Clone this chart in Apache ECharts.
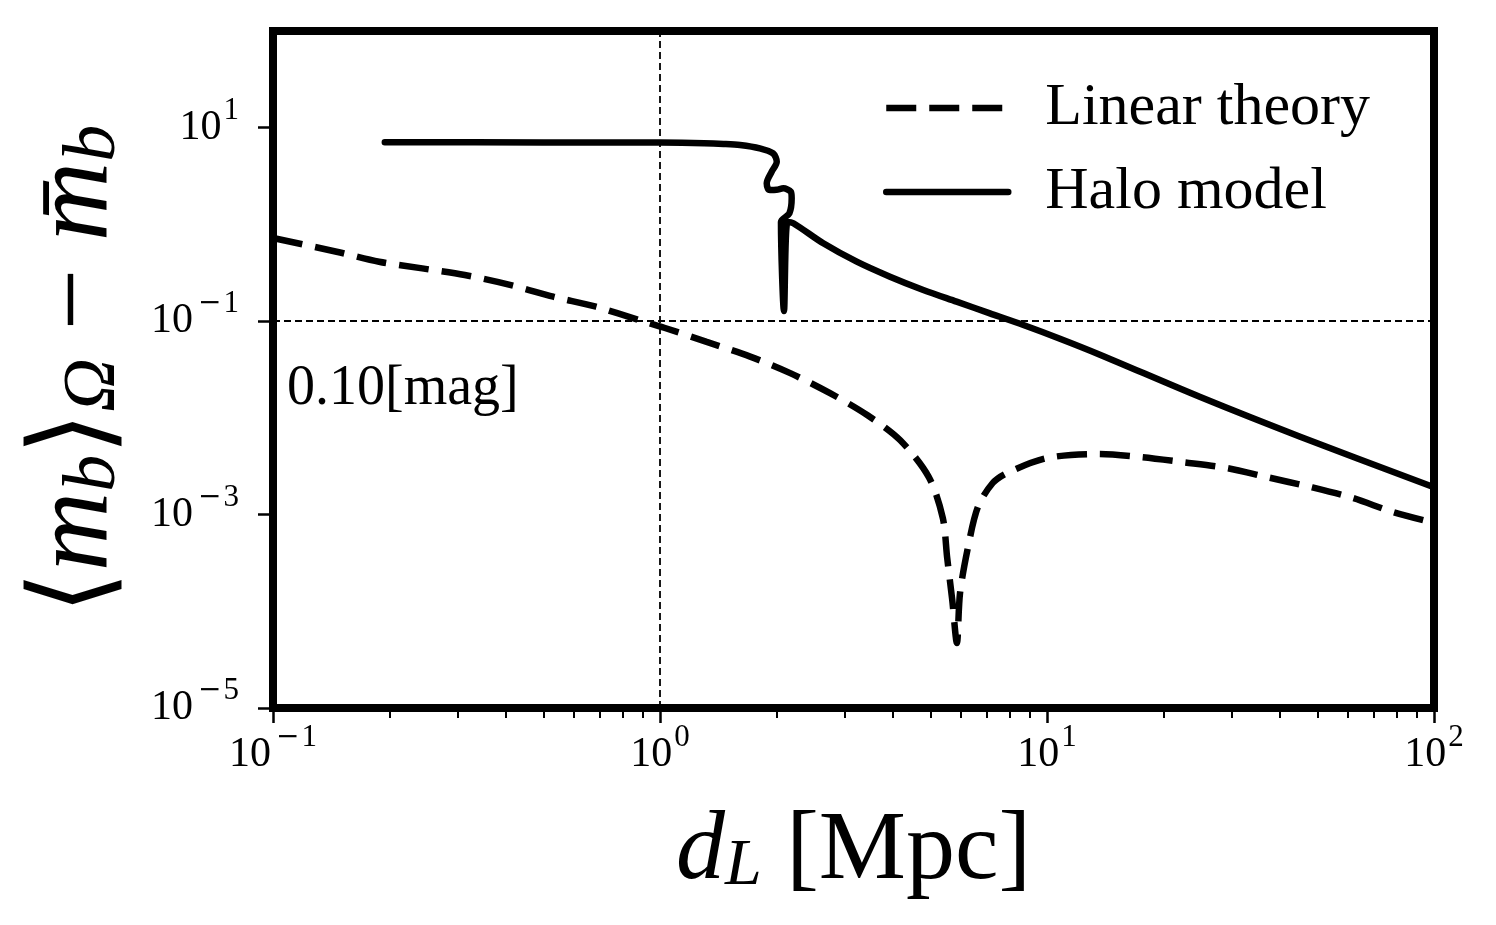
<!DOCTYPE html>
<html>
<head>
<meta charset="utf-8">
<script src="https://cdn.jsdelivr.net/npm/echarts@6/dist/echarts.min.js"></script>
<style>
  html, body { margin: 0; padding: 0; background: #fff; }
  #chart { width: 1496px; height: 925px; }
</style>
</head>
<body>
<div id="chart"></div>
<script>
// values (d_L in Mpc, magnitude offset)
var linearX = [0.1, 0.146, 0.188, 0.243, 0.313, 0.412, 0.53, 0.683, 0.88, 1.03, 1.32, 1.71, 2.17, 2.75, 3.43, 4.17, 4.95, 5.38, 5.52, 5.69, 5.85, 5.96, 6.25, 6.63, 7.24, 7.88, 10, 13.5, 17.4, 22.4, 29.2, 37.0, 47.9, 61.8, 78.4, 100];
var linearY = [0.723, 0.522, 0.411, 0.351, 0.300, 0.236, 0.179, 0.141, 0.103, 0.085, 0.061, 0.043, 0.029, 0.018, 0.0107, 0.0059, 0.00244, 0.00092, 0.00036, 0.000131, 0.000047, 0.000154, 0.00046, 0.0012, 0.00212, 0.00269, 0.00384, 0.00422, 0.00394, 0.00349, 0.00303, 0.00244, 0.00193, 0.00148, 0.00106, 0.00082];

var haloX = [0.1945, 0.5, 1.0, 1.3, 1.46, 1.61, 1.81, 1.96, 2.003, 1.944, 1.887, 1.9, 1.924, 2.0, 2.083, 2.177, 2.189, 2.159, 2.054, 2.091, 2.135, 2.211, 2.642, 3.224, 3.929, 4.79, 5.84, 7.12, 8.69, 10.8, 13.7, 24.8, 45.1, 100];
var haloY = [7.06, 7.05, 7.02, 6.92, 6.8, 6.62, 6.12, 5.43, 4.45, 3.51, 2.66, 2.35, 2.27, 2.28, 2.36, 2.18, 1.86, 1.30, 1.06, 0.127, 1.06, 1.03, 0.638, 0.412, 0.288, 0.210, 0.159, 0.1205, 0.0912, 0.0658, 0.045, 0.0165, 0.00638, 0.00192];

var seriesNames = ['Linear theory', 'Halo model'];
var majorTicksX = [0.1, 1, 10, 100];
var minorTicksX = [0.2, 0.3, 0.4, 0.5, 0.6, 0.7, 0.8, 0.9, 2, 3, 4, 5, 6, 7, 8, 9, 20, 30, 40, 50, 60, 70, 80, 90];
var majorTicksY = [1e-5, 1e-3, 1e-1, 10];
var guideX = 1;
var guideY = 0.1;
var guideLabel = '0.10[mag]';

var FONT = 'Liberation Serif';

function pairs(xs, ys) {
  return xs.map(function (x, i) { return [x, ys[i]]; });
}

// 10^n with a raised exponent
function powLabel(v) {
  var e = Math.round(Math.log10(v));
  if (e < 0) return '{b|10}{m|\u2212}{s|' + (-e) + '}';
  return '{b|10}{s|' + e + '}';
}

var tickRich = {
  b: { fontFamily: FONT, fontSize: 42, color: '#000' },
  m: { fontFamily: 'DejaVu Serif', fontSize: 28, color: '#000', padding: [0, 0, 34, 5] },
  s: { fontFamily: FONT, fontSize: 31, color: '#000', padding: [0, 0, 34, 2] }
};

var myChart = echarts.init(document.getElementById('chart'), null, { renderer: 'canvas' });

var option = {
  backgroundColor: '#fff',
  animation: false,
  grid: {
    left: 273, right: 62, top: 31, bottom: 217,
    show: true, borderColor: '#000', borderWidth: 8, backgroundColor: 'transparent'
  },
  legend: {
    orient: 'vertical',
    left: 878, top: 71,
    itemWidth: 122, itemHeight: 2,
    itemGap: 20,
    data: seriesNames,
    lineStyle: { width: 'inherit', type: 'inherit', cap: 'inherit' },
    textStyle: { fontFamily: FONT, fontSize: 60, color: '#000', lineHeight: 64, padding: [0, 0, 0, 32] }
  },
  xAxis: [
    {
      type: 'log', logBase: 10, min: 0.1, max: 100,
      name: '{i|d}{sub|L}{t| [Mpc]}',
      nameLocation: 'middle', nameGap: 95,
      nameTextStyle: {
        rich: {
          i: { fontFamily: FONT, fontStyle: 'italic', fontSize: 98, color: '#000' },
          sub: { fontFamily: FONT, fontStyle: 'italic', fontSize: 66, color: '#000', padding: [30, 0, 0, 0] },
          t: { fontFamily: FONT, fontSize: 98, color: '#000' }
        }
      },
      axisLine: { show: false },
      splitLine: { show: false },
      axisTick: { show: true, inside: false, length: 15, customValues: majorTicksX, lineStyle: { color: '#000', width: 2.5 } },
      axisLabel: { customValues: majorTicksX, margin: 14, fontFamily: FONT, fontSize: 42, color: '#000', formatter: powLabel, rich: tickRich }
    },
    {
      type: 'log', logBase: 10, min: 0.1, max: 100,
      position: 'bottom',
      axisLine: { show: false },
      splitLine: { show: false },
      axisLabel: { show: false },
      axisTick: { show: true, inside: false, length: 10, customValues: minorTicksX, lineStyle: { color: '#000', width: 2 } }
    }
  ],
  yAxis: {
    type: 'log', logBase: 10, min: 1e-5, max: 100,
    name: '{t|\u27E8}{i|m}{sub|b}{t|\u27E9}{sub|\u03A9}{t| \u2212 }{i|m\u0304}{sub|b}',
    nameLocation: 'middle', nameRotate: 90, nameGap: 140,
    nameTextStyle: {
      rich: {
        i: { fontFamily: FONT, fontStyle: 'italic', fontSize: 110, color: '#000' },
        sub: { fontFamily: FONT, fontStyle: 'italic', fontSize: 74, color: '#000', padding: [34, 0, 0, 0] },
        t: { fontFamily: FONT, fontSize: 110, color: '#000' }
      }
    },
    axisLine: { show: false },
    splitLine: { show: false },
    axisTick: { show: true, inside: false, length: 15, customValues: majorTicksY, lineStyle: { color: '#000', width: 2.5 } },
    axisLabel: { customValues: majorTicksY, margin: 34, fontFamily: FONT, fontSize: 42, color: '#000', formatter: powLabel, rich: tickRich }
  },
  series: [
    {
      name: seriesNames[0],
      type: 'line',
      data: pairs(linearX, linearY),
      showSymbol: false, symbol: 'none',
      smooth: 0.3,
      lineStyle: { color: '#000', width: 6.5, type: [30, 13], cap: 'butt' },
      itemStyle: { color: '#000' },
      z: 3,
      markLine: {
        silent: true, symbol: 'none', animation: false,
        lineStyle: { color: '#000', type: [7, 4], width: 1.8 },
        data: [
          { xAxis: guideX, label: { show: false } },
          {
            yAxis: guideY,
            label: {
              show: true, formatter: guideLabel, position: 'insideStartBottom',
              distance: [14, 40],
              fontFamily: FONT, fontSize: 56, color: '#000'
            }
          }
        ]
      }
    },
    {
      name: seriesNames[1],
      type: 'line',
      data: pairs(haloX, haloY),
      showSymbol: false, symbol: 'none',
      smooth: 0.3,
      lineStyle: { color: '#000', width: 6.5, cap: 'round', join: 'round' },
      itemStyle: { color: '#000' },
      z: 4
    }
  ]
};

myChart.setOption(option);
window.addEventListener('resize', myChart.resize);
</script>
</body>
</html>
